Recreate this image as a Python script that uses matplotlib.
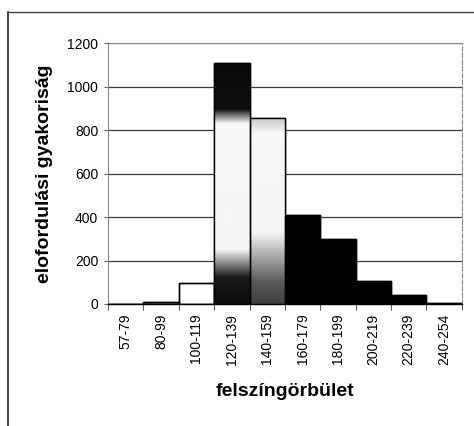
import numpy as np
import matplotlib
matplotlib.use("Agg")
import matplotlib.pyplot as plt
from matplotlib.lines import Line2D

plt.rcParams['font.family'] = ['Liberation Sans', 'DejaVu Sans']

categories = ["57-79", "80-99", "100-119", "120-139", "140-159",
              "160-179", "180-199", "200-219", "220-239", "240-254"]
values = [0, 8, 95, 1110, 856, 410, 298, 108, 40, 3]
y_ticks = [0, 200, 400, 600, 800, 1000, 1200]

face = ['white', '#9a9a9a', 'white', 'white', 'white',
        'black', 'black', 'black', 'black', 'black']

# gradient stops (value, brightness) for the two shaded bars
grad = {
    3: ([0, 120, 250, 830, 895, 1110], [0.05, 0.10, 0.96, 0.97, 0.06, 0.04]),
    4: ([0, 100, 330, 790, 856], [0.25, 0.35, 0.96, 0.97, 0.78]),
}

fig = plt.figure(figsize=(4.74, 4.26), dpi=100)
ax = fig.add_axes([0.228, 0.2864, 0.746, 0.6116])

x = np.arange(len(categories))
bars = ax.bar(x, values, width=1.0, color=face, edgecolor='black',
              linewidth=1.0, zorder=2)

for i, (stops, bright) in grad.items():
    h = values[i]
    ys = np.linspace(0, h, 300)
    col = np.interp(ys, stops, bright)[::-1].reshape(-1, 1)
    im = ax.imshow(col, cmap='gray', vmin=0, vmax=1, aspect='auto',
                   extent=[x[i] - 0.5, x[i] + 0.5, 0, h], zorder=3,
                   interpolation='bilinear')
    im.set_clip_path(bars[i])

ax.bar(x, values, width=1.0, color='none', edgecolor='black',
       linewidth=1.0, zorder=4)

ax.set_xlim(-0.5, len(categories) - 0.5)
ax.set_ylim(0, 1200)
ax.set_yticks(y_ticks)
ax.set_yticklabels([str(v) for v in y_ticks], fontsize=10)
ax.yaxis.grid(True, color='#3a3a3a', linewidth=0.9, zorder=0)
ax.set_axisbelow(True)

ax.set_xticks(x)
ax.set_xticklabels(categories, rotation=90, fontsize=10)
ax.set_xticks(np.arange(len(categories) + 1) - 0.5, minor=True)
ax.tick_params(axis='x', which='major', length=0, pad=7)
ax.tick_params(axis='x', which='minor', length=4, color='#333')
ax.tick_params(axis='y', length=3, color='#666', pad=4)

for s in ['left', 'right', 'top']:
    ax.spines[s].set_color('#888')
    ax.spines[s].set_linewidth(0.8)
ax.spines['right'].set_linestyle((0, (4, 2)))
ax.spines['bottom'].set_color('black')
ax.spines['bottom'].set_linewidth(1.0)

ax.set_ylabel("elofordulási gyakoriság", fontsize=14, fontweight='bold',
              labelpad=10)
ax.set_xlabel("felszíngörbület", fontsize=14, fontweight='bold', labelpad=13)

# outer frame (left and top)
fig.add_artist(Line2D([8 / 474, 8 / 474], [0, 1 - 12 / 426],
                      transform=fig.transFigure, color='#222', linewidth=1.2))
fig.add_artist(Line2D([8 / 474, 1], [1 - 12 / 426, 1 - 12 / 426],
                      transform=fig.transFigure, color='#444', linewidth=1.0))

fig.savefig("out.png", dpi=100)
